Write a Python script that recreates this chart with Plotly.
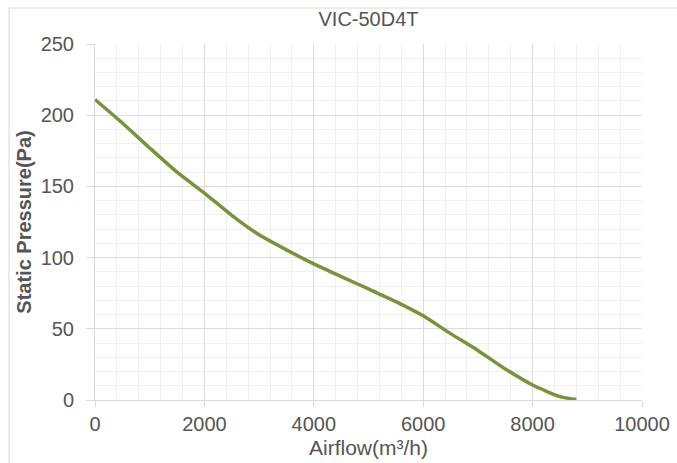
import plotly.graph_objects as go

# fan curve
airflow = [0, 500, 1000, 1500, 2000, 2500, 3000, 3500, 4000, 4500, 5000,
           5500, 6000, 6500, 7000, 7500, 8000, 8500, 8800]
pressure = [211, 194.5, 177, 160, 145.3, 129.7, 116, 105.4, 95.6, 86.7, 78,
            69.1, 59.1, 46.6, 34.8, 21.8, 10.5, 2.4, 0.3]

x_ticks = [0, 2000, 4000, 6000, 8000, 10000]
y_ticks = [0, 50, 100, 150, 200, 250]

FONT = 'Liberation Sans, Arial, sans-serif'
GRAY = '#555555'

fig = go.Figure()
fig.add_trace(go.Scatter(
    x=airflow, y=pressure, mode='lines',
    line=dict(color='#77933c', width=3.5, shape='spline', smoothing=0.6),
    hoverinfo='x+y', showlegend=False,
))

fig.update_layout(
    width=677, height=463,
    margin=dict(l=95, r=35, t=44, b=63),
    paper_bgcolor='white', plot_bgcolor='white',
    font=dict(family=FONT, color=GRAY),
    title=dict(text='VIC-50D4T', x=0.5, xref='paper', xanchor='center',
               y=1 - 19 / 463, yref='container', yanchor='middle',
               font=dict(size=20, color=GRAY, family=FONT)),
    # outer chart frame (top and left edges visible)
    shapes=[
        dict(type='line', xref='paper', yref='paper',
             x0=(9 - 95) / 547, x1=(677 - 95) / 547,
             y0=(463 - 63 - 8) / 356, y1=(463 - 63 - 8) / 356,
             line=dict(color='#d9d9d9', width=1)),
        dict(type='line', xref='paper', yref='paper',
             x0=(9 - 95) / 547, x1=(9 - 95) / 547,
             y0=-63 / 356, y1=(463 - 63 - 8) / 356,
             line=dict(color='#d9d9d9', width=1)),
    ],
)

fig.update_xaxes(
    range=[0, 10000], tickvals=x_ticks, ticktext=[str(v) for v in x_ticks],
    automargin=False,
    showgrid=True, gridcolor='#dcdcdc', gridwidth=1,
    minor=dict(dtick=400, tick0=0, showgrid=True, gridcolor='#f0f0f0', ticks=''),
    showline=True, linecolor='#d9d9d9', linewidth=1,
    ticks='outside', ticklen=6, tickcolor='#d9d9d9',
    ticklabelstandoff=0,
    tickfont=dict(size=20, color=GRAY, family=FONT),
    zeroline=False,
    title=dict(text='Airflow(m³/h)', standoff=6,
               font=dict(size=21, color=GRAY, family=FONT)),
)

fig.update_yaxes(
    range=[0, 250], tickvals=y_ticks, ticktext=[str(v) for v in y_ticks],
    automargin=False,
    showgrid=True, gridcolor='#dcdcdc', gridwidth=1,
    minor=dict(dtick=10, tick0=0, showgrid=True, gridcolor='#f0f0f0', ticks=''),
    showline=True, linecolor='#d9d9d9', linewidth=1,
    ticks='outside', ticklen=8, tickcolor='#d9d9d9',
    ticklabelstandoff=8,
    tickfont=dict(size=20, color=GRAY, family=FONT),
    zeroline=False,
    title=dict(text='<b>Static Pressure(Pa)</b>', standoff=3,
               font=dict(size=20, color=GRAY, family=FONT)),
)

# no page margin, so the figure sits at the window's top-left corner
fig.write_html('out.html', config={'displayModeBar': False},
               post_script="document.body.style.margin='0';")
